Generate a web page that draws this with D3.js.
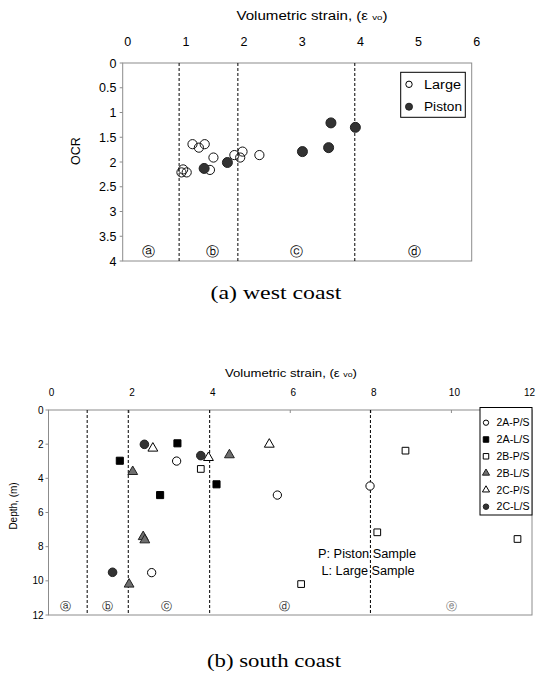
<!DOCTYPE html>
<html><head><meta charset="utf-8">
<script src="https://cdn.jsdelivr.net/npm/d3@7"></script>
<style>body{margin:0;background:#fff}svg{display:block}</style>
</head><body>
<svg id="c" width="539" height="680"></svg>
<script>
// ---------- DATA: (a) west coast ----------
const topXTicks = [0,1,2,3,4,5,6];
const topYTicks = [0,0.5,1,1.5,2,2.5,3,3.5,4];
const topBoundaries = [0.97,1.98,3.99];
const topZones = ["ⓐ","ⓑ","ⓒ","ⓓ"];
const topZoneX = [0.44,1.54,2.98,5.02];
const largeX = [1.20,1.31,1.41,1.56,1.50,1.92,2.02,2.06,2.35,1.04,1.01,1.10];
const largeY = [1.64,1.71,1.64,1.91,2.16,1.86,1.91,1.79,1.86,2.15,2.21,2.21];
const pistonX = [1.40,1.80,3.09,3.58,3.54,4.00];
const pistonY = [2.13,2.01,1.79,1.21,1.71,1.30];

// ---------- DATA: (b) south coast ----------
const botXTicks = [0,2,4,6,8,10,12];
const botYTicks = [0,2,4,6,8,10,12];
const botBoundaries = [0.96,1.98,4.0,7.99];
const botZones = ["ⓐ","ⓑ","ⓒ","ⓓ","ⓔ"];
const botZoneX = [0.41,1.47,2.92,5.85,10.0];
const seriesNames = ["2A-P/S","2A-L/S","2B-P/S","2B-L/S","2C-P/S","2C-L/S"];
const s2AP_x = [3.18,2.56,5.68,7.98];       const s2AP_y = [2.99,9.52,4.98,4.45];
const s2AL_x = [1.77,3.20,2.77,4.17];       const s2AL_y = [2.97,1.95,4.98,4.35];
const s2BP_x = [3.78,8.86,8.16,11.64,6.27]; const s2BP_y = [3.45,2.38,7.16,7.55,10.19];
const s2BL_x = [2.09,2.35,2.39,2.00,4.49];  const s2BL_y = [3.61,7.42,7.61,10.20,2.63];
const s2CP_x = [2.59,3.97,5.48];            const s2CP_y = [2.24,2.79,2.01];
const s2CL_x = [2.38,3.78,1.59];            const s2CL_y = [2.01,2.67,9.50];

// ---------- DRAW ----------
const svg = d3.select("#c");
const SANS = "'Liberation Sans', Arial, sans-serif";
const SERIF = "'Liberation Serif', 'Times New Roman', serif";
const CIRC = "'DejaVu Sans', sans-serif";

function txt(g, x, y, s, size, opts={}) {
  const t = g.append("text").attr("x", x).attr("y", y)
    .attr("font-family", opts.family || SANS).attr("font-size", size)
    .attr("fill", opts.fill || "#000")
    .attr("text-anchor", opts.anchor || "start");
  if (opts.len) t.attr("textLength", opts.len).attr("lengthAdjust","spacingAndGlyphs");
  t.text(s);
  return t;
}

// ===== Top chart =====
const tx = d3.scaleLinear().domain([0,6]).range([122.7,471.7]);
const ty = d3.scaleLinear().domain([0,4]).range([63,261]);
const gT = svg.append("g");

gT.append("rect").attr("x",tx(0)).attr("y",ty(0)).attr("width",tx(6)-tx(0)).attr("height",ty(4)-ty(0))
  .attr("fill","none").attr("stroke","#8c8c8c").attr("stroke-width",1);

gT.selectAll("line.yt").data(topYTicks).join("line")
  .attr("x1",tx(0)-3).attr("x2",tx(0)).attr("y1",d=>ty(d)).attr("y2",d=>ty(d))
  .attr("stroke","#8c8c8c");
gT.selectAll("text.yl").data(topYTicks).join("text")
  .attr("x",116.5).attr("y",d=>ty(d)+4.5).attr("text-anchor","end")
  .attr("font-family",SANS).attr("font-size",12.5).text(d=>d);
gT.selectAll("text.xl").data(topXTicks).join("text")
  .attr("x",d=>tx(d)+5).attr("y",46).attr("text-anchor","middle")
  .attr("font-family",SANS).attr("font-size",12.5).text(d=>d);

const tt = gT.append("text").attr("x",312).attr("y",19.5).attr("text-anchor","middle")
  .attr("font-family",SANS).attr("font-size",12.5)
  .attr("textLength",151).attr("lengthAdjust","spacingAndGlyphs");
tt.append("tspan").text("Volumetric strain, (ε ");
tt.append("tspan").attr("font-size",8).text("vo");
tt.append("tspan").text(")");

gT.append("text").attr("transform","translate(80,151) rotate(-90)").attr("text-anchor","middle")
  .attr("font-family",SANS).attr("font-size",12.5).text("OCR");

gT.selectAll("line.bd").data(topBoundaries).join("line")
  .attr("x1",d=>tx(d)).attr("x2",d=>tx(d)).attr("y1",ty(0)).attr("y2",ty(4))
  .attr("stroke","#000").attr("stroke-width",1).attr("stroke-dasharray","3,2");

gT.selectAll("text.zn").data(topZones).join("text")
  .attr("x",(d,i)=>tx(topZoneX[i])).attr("y",256).attr("text-anchor","middle")
  .attr("font-family",CIRC).attr("font-size",13).attr("fill","#000").text(d=>d);

const largePts = largeX.map((x,i)=>({x, y:largeY[i]}));
const pistonPts = pistonX.map((x,i)=>({x, y:pistonY[i]}));
gT.selectAll("circle.lg").data(largePts).join("circle")
  .attr("cx",d=>tx(d.x)).attr("cy",d=>ty(d.y)).attr("r",4.6)
  .attr("fill","none").attr("stroke","#111").attr("stroke-width",1);
gT.selectAll("circle.pi").data(pistonPts).join("circle")
  .attr("cx",d=>tx(d.x)).attr("cy",d=>ty(d.y)).attr("r",5)
  .attr("fill","#333").attr("stroke","#222").attr("stroke-width",1);

const lgT = gT.append("g");
lgT.append("rect").attr("x",400.7).attr("y",72.3).attr("width",64.6).attr("height",45)
  .attr("fill","#fff").attr("stroke","#000").attr("stroke-width",1);
lgT.append("circle").attr("cx",409).attr("cy",84.3).attr("r",3.2).attr("fill","#fff").attr("stroke","#000");
lgT.append("circle").attr("cx",409).attr("cy",106.7).attr("r",3.5).attr("fill","#333").attr("stroke","#222");
txt(lgT,424,88.8,"Large",12.5,{len:37});
txt(lgT,424,111.2,"Piston",12.5,{len:38});

txt(svg,276,298.5,"(a) west coast",19,{family:SERIF,anchor:"middle",len:131});

// ===== Bottom chart =====
const bx = d3.scaleLinear().domain([0,12]).range([48.5,532]);
const by = d3.scaleLinear().domain([0,12]).range([410,615]);
const gB = svg.append("g");

gB.append("rect").attr("x",bx(0)).attr("y",by(0)).attr("width",bx(12)-bx(0)).attr("height",by(12)-by(0))
  .attr("fill","none").attr("stroke","#8c8c8c").attr("stroke-width",1);

gB.selectAll("line.xt").data(botXTicks.slice(1,-1)).join("line")
  .attr("x1",d=>bx(d)).attr("x2",d=>bx(d)).attr("y1",by(0)).attr("y2",by(0)+3)
  .attr("stroke","#8c8c8c");
gB.selectAll("line.yt").data(botYTicks).join("line")
  .attr("x1",bx(0)-3).attr("x2",bx(0)).attr("y1",d=>by(d)).attr("y2",d=>by(d))
  .attr("stroke","#8c8c8c");
gB.selectAll("text.yl").data(botYTicks).join("text")
  .attr("x",43.5).attr("y",d=>by(d)+3.6).attr("text-anchor","end")
  .attr("font-family",SANS).attr("font-size",10).text(d=>d);
gB.selectAll("text.xl").data(botXTicks).join("text")
  .attr("x",d=>Math.min(bx(d)+3, 538)).attr("y",395.8)
  .attr("text-anchor",d=>d===12?"end":"middle")
  .attr("font-family",SANS).attr("font-size",10).text(d=>d);

const bt = gB.append("text").attr("x",291).attr("y",376.8).attr("text-anchor","middle")
  .attr("font-family",SANS).attr("font-size",10.5)
  .attr("textLength",132).attr("lengthAdjust","spacingAndGlyphs");
bt.append("tspan").text("Volumetric strain, (ε ");
bt.append("tspan").attr("font-size",7).text("vo");
bt.append("tspan").text(")");

gB.append("text").attr("transform","translate(16.8,506) rotate(-90)").attr("text-anchor","middle")
  .attr("font-family",SANS).attr("font-size",10).text("Depth, (m)");

gB.selectAll("line.bd").data(botBoundaries).join("line")
  .attr("x1",d=>bx(d)).attr("x2",d=>bx(d)).attr("y1",by(0)).attr("y2",by(12))
  .attr("stroke","#000").attr("stroke-width",1).attr("stroke-dasharray","3,2");

gB.selectAll("text.zn").data(botZones).join("text")
  .attr("x",(d,i)=>bx(botZoneX[i])).attr("y",610).attr("text-anchor","middle")
  .attr("font-family",CIRC).attr("font-size",11)
  .attr("fill",(d,i)=>i===4?"#777":"#222").text(d=>d);

const styles = [
  {type:d3.symbolCircle,   size:54, fill:"#fff", stroke:"#000", lsize:22},
  {type:d3.symbolSquare,   size:50, fill:"#000", stroke:"#000", lsize:30},
  {type:d3.symbolSquare,   size:45, fill:"#fff", stroke:"#000", lsize:30},
  {type:d3.symbolTriangle, size:42, fill:"#6e6e6e", stroke:"#222", lsize:22},
  {type:d3.symbolTriangle, size:42, fill:"#fff", stroke:"#000", lsize:22},
  {type:d3.symbolCircle,   size:58, fill:"#333", stroke:"#222", lsize:24}
];
const seriesX = [s2AP_x,s2AL_x,s2BP_x,s2BL_x,s2CP_x,s2CL_x];
const seriesY = [s2AP_y,s2AL_y,s2BP_y,s2BL_y,s2CP_y,s2CL_y];
const drawOrder = [2,1,0,3,4,5];
drawOrder.forEach(si=>{
  const st = styles[si];
  const pts = seriesX[si].map((x,i)=>({x,y:seriesY[si][i]}));
  gB.append("g").selectAll("path").data(pts).join("path")
    .attr("transform",d=>`translate(${bx(d.x)},${by(d.y)})`)
    .attr("d",d3.symbol().type(st.type).size(st.size))
    .attr("fill",st.fill).attr("stroke",st.stroke).attr("stroke-width",1);
});

const lgB = gB.append("g");
lgB.append("rect").attr("x",480).attr("y",407.5).attr("width",52).attr("height",107.5)
  .attr("fill","#fff").attr("stroke","#000").attr("stroke-width",1);
const legY = d3.scaleLinear().domain([0,5]).range([422.7,506.7]);
seriesNames.forEach((n,i)=>{
  const st = styles[i];
  lgB.append("path").attr("transform",`translate(486,${legY(i)})`)
    .attr("d",d3.symbol().type(st.type).size(st.lsize))
    .attr("fill",st.fill).attr("stroke",st.stroke).attr("stroke-width",1);
  txt(lgB,496.5,legY(i)+3.6,n,10,{len:33});
});

txt(gB,367,558.3,"P: Piston Sample",12,{anchor:"middle",len:98});
txt(gB,368,575,"L: Large Sample",12,{anchor:"middle",len:93});

txt(svg,274,667,"(b) south coast",19,{family:SERIF,anchor:"middle",len:134});
</script>
</body></html>
